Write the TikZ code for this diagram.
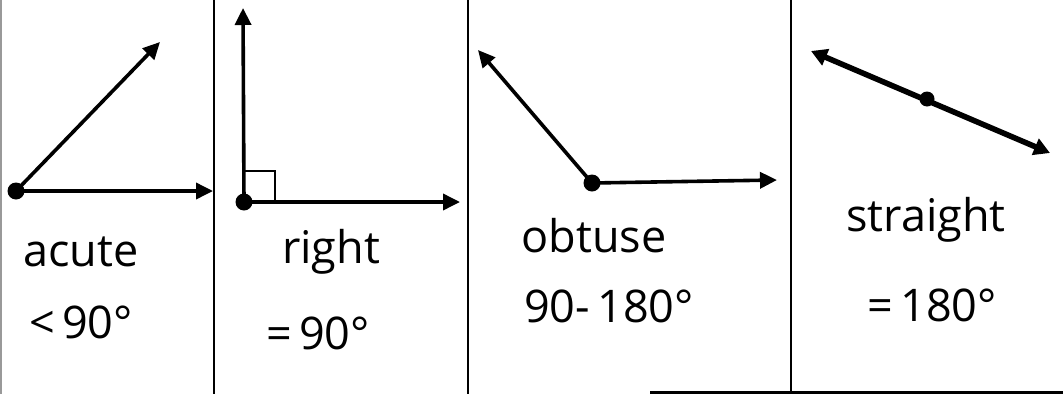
\documentclass[tikz,border=0pt]{standalone}
\usepackage{fontspec}
\setmainfont{Open Sans}
\usetikzlibrary{arrows.meta}
\begin{document}
\begin{tikzpicture}[x=1pt,y=-1pt,
  ray/.style={line width=3.6pt,-{Triangle[length=17pt,width=16pt]}},
  thickray/.style={line width=5.6pt,{Triangle[length=16pt,width=17pt]}-{Triangle[length=16pt,width=17pt]}},
  vertex/.style={circle,fill=black,inner sep=0pt,minimum size=#1},
  vertex/.default=17pt,
  divider/.style={line width=2pt},
  lbl/.style={font=\fontsize{45}{47}\selectfont,inner sep=0pt}]
\useasboundingbox (0,0) rectangle (1063,394);
\fill[white] (0,0) rectangle (1063,394);
% frame lines
\coordinate (L0) at (0.8,0); \coordinate (L1) at (0.8,394);
\draw[line width=1.6pt,black!40] (L0) -- (L1);
\coordinate (D1t) at (214,0); \coordinate (D1b) at (214,394);
\coordinate (D2t) at (468,0); \coordinate (D2b) at (468,394);
\coordinate (D3t) at (791,0); \coordinate (D3b) at (791,394);
\draw[divider] (D1t) -- (D1b);
\draw[divider] (D2t) -- (D2b);
\draw[divider] (D3t) -- (D3b);
\coordinate (B0) at (650,392.5); \coordinate (B1) at (1063,392.5);
\draw[line width=2.2pt] (B0) -- (B1);
% acute
\node[vertex] (A) at (16,191) {};
\coordinate (A1) at (213,191);
\coordinate (A2) at (160,42);
\draw[ray] (A.center) -- (A1);
\draw[ray] (A.center) -- (A2);
\node[lbl] (acute) at (81,252) {acute};
\node[lbl] (acuteval) at (81,322) {<\,90°};
% right
\node[vertex] (R) at (244,202) {};
\coordinate (R1) at (460,202);
\coordinate (R2) at (243,8);
\draw[ray] (R.center) -- (R1);
\draw[ray] (R.center) -- (R2);
\coordinate (Q1) at (243,171); \coordinate (Q2) at (275,171); \coordinate (Q3) at (275,202);
\draw[line width=2pt] (Q1) -- (Q2) -- (Q3);
\node[lbl] (right) at (331,252) {right};
\node[lbl] (rightval) at (318,333) {=\,90°};
% obtuse
\node[vertex] (O) at (592,183) {};
\coordinate (O1) at (777,180);
\coordinate (O2) at (478,50);
\draw[ray] (O.center) -- (O1);
\draw[ray] (O.center) -- (O2);
\node[lbl] (obtuse) at (594,236) {obtuse};
\node[lbl] (obtuseval) at (609,306) {90-\,180°};
% straight
\node[vertex=15pt] (S) at (927,99) {};
\coordinate (S1) at (811,51);
\coordinate (S2) at (1050,153);
\draw[thickray] (S1) -- (S2);
\node[lbl] (straight) at (926,220) {straight};
\node[lbl] (straightval) at (932,305) {=\,180°};
\end{tikzpicture}
\end{document}
